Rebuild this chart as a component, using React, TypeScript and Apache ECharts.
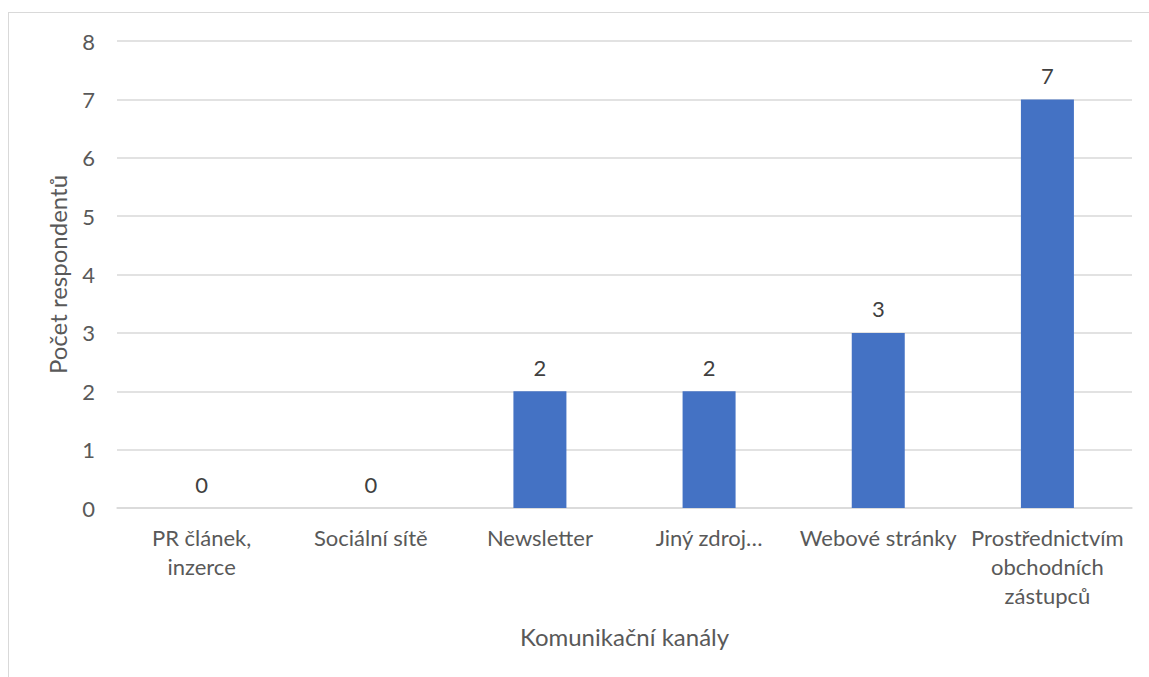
import React, { useEffect, useRef } from "react";
import * as echarts from "echarts";

const categories = [
  "PR článek,\ninzerce",
  "Sociální sítě",
  "Newsletter",
  "Jiný zdroj…",
  "Webové stránky",
  "Prostřednictvím\nobchodních\nzástupců",
];
const values = [0, 0, 2, 2, 3, 7];
const yTicks = { min: 0, max: 8, interval: 1 };
const xTitle = "Komunikační kanály";
const yTitle = "Počet respondentů";

const FONT = "Lato, 'Open Sans', sans-serif";

export default function App() {
  const ref = useRef<HTMLDivElement>(null);
  useEffect(() => {
    if (!ref.current) return;
    const chart = echarts.init(ref.current, undefined, { renderer: "svg" });
    chart.setOption({
      animation: false,
      grid: { left: 117, right: 17, top: 41, bottom: 169 },
      xAxis: {
        type: "category",
        data: categories,
        name: xTitle,
        nameLocation: "middle",
        nameGap: 116,
        nameTextStyle: { fontFamily: FONT, fontSize: 24, color: "#595959" },
        axisLine: { lineStyle: { color: "#d9d9d9", width: 1.5 } },
        axisTick: { show: false },
        axisLabel: {
          interval: 0,
          fontFamily: FONT,
          fontSize: 22,
          color: "#595959",
          lineHeight: 29,
          margin: 15,
          verticalAlign: "top",
        },
      },
      yAxis: {
        type: "value",
        min: yTicks.min,
        max: yTicks.max,
        interval: yTicks.interval,
        name: yTitle,
        nameLocation: "middle",
        nameGap: 48,
        nameTextStyle: { fontFamily: FONT, fontSize: 24, color: "#595959" },
        axisLabel: { fontFamily: FONT, fontSize: 22, color: "#595959", margin: 22 },
        splitLine: { lineStyle: { color: "#d9d9d9", width: 1.5 } },
        axisLine: { show: false },
        axisTick: { show: false },
      },
      series: [
        {
          type: "bar",
          data: values,
          barWidth: 53,
          itemStyle: { color: "#4472C4" },
          label: {
            show: true,
            position: "top",
            distance: 13,
            fontFamily: FONT,
            fontSize: 22,
            color: "#404040",
          },
        },
      ],
    });
    return () => chart.dispose();
  }, []);
  return (
    <div style={{ position: "fixed", left: 0, top: 0, width: 1149, height: 677, overflow: "hidden", background: "#fff" }}>
      <div
        style={{
          position: "absolute",
          left: 8,
          top: 12,
          width: 1200,
          height: 700,
          border: "1.5px solid #d9d9d9",
          boxSizing: "border-box",
        }}
      />
      <div ref={ref} style={{ position: "absolute", left: 0, top: 0, width: 1149, height: 677 }} />
    </div>
  );
}
